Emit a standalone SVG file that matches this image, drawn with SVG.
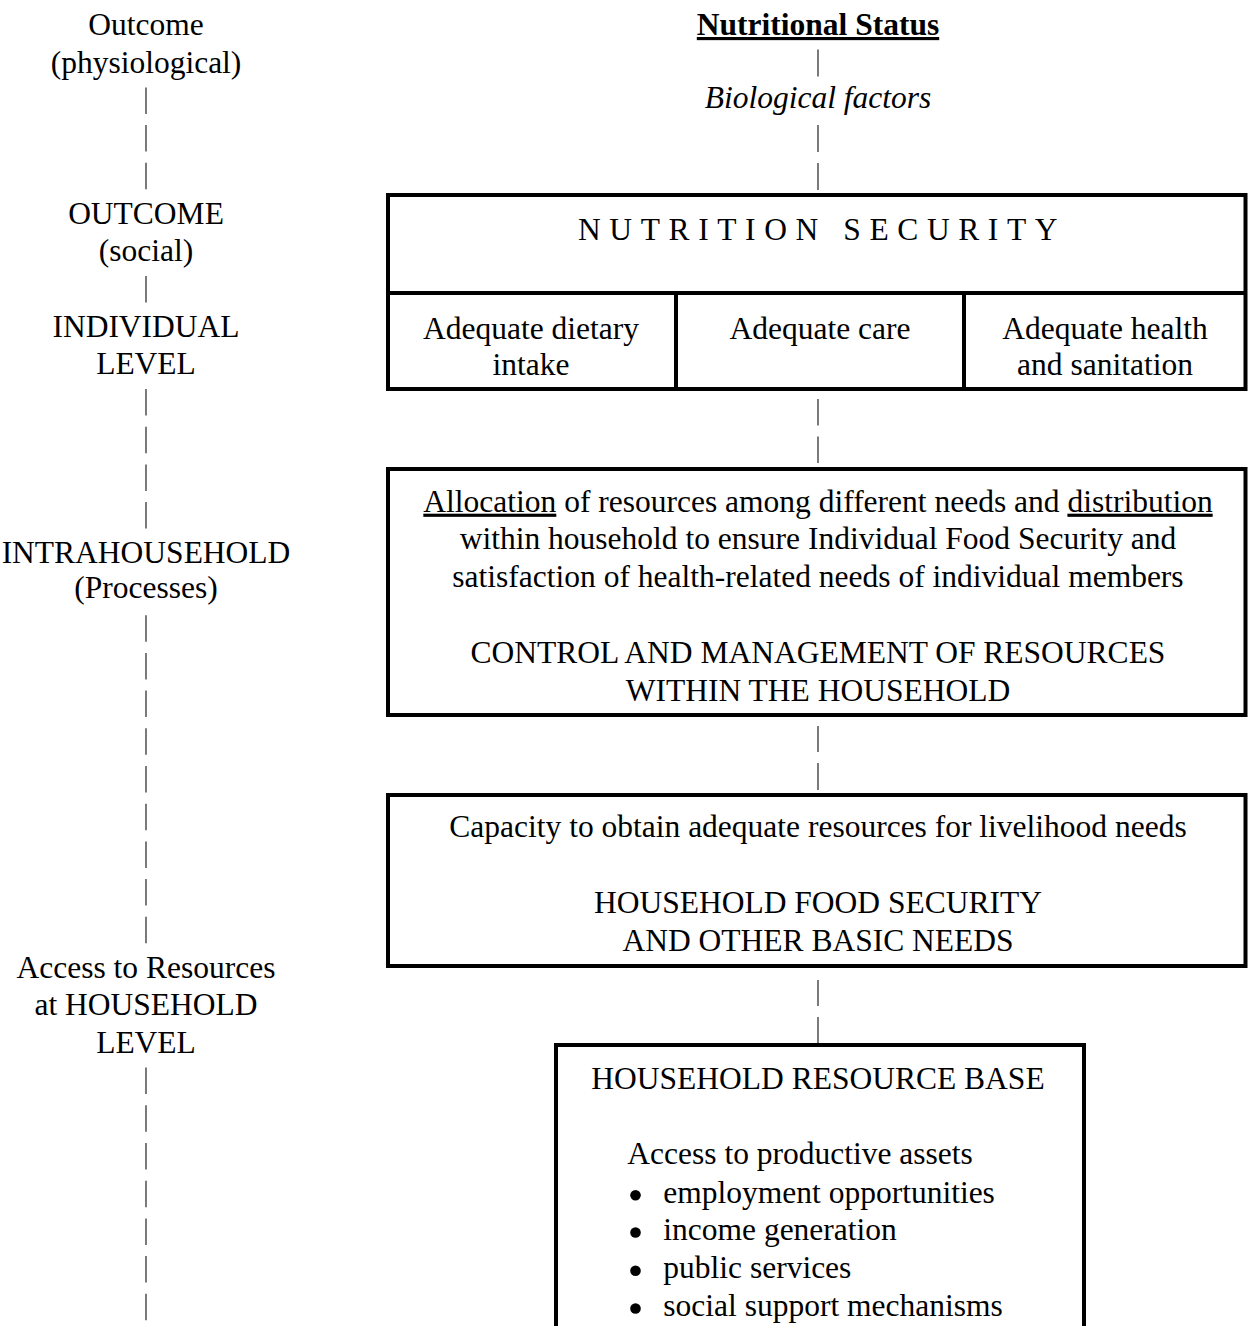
<svg xmlns="http://www.w3.org/2000/svg" width="1248" height="1326" viewBox="0 0 1248 1326">
<style>
text{font-family:"Liberation Serif","Times New Roman",serif;font-size:31.5px;fill:#000}
.c{text-anchor:middle}
.box{fill:none;stroke:#000;stroke-width:4}
.bar{stroke:#333;stroke-width:1.3}
.dot{fill:#000}
</style>
<rect width="1248" height="1326" fill="#fff"/>
<g id="left-scale">
<text class="c" x="146" y="35">Outcome</text>
<text class="c" x="146" y="72.7">(physiological)</text>
<text class="c" x="146" y="223.5">OUTCOME</text>
<text class="c" x="146" y="261.2">(social)</text>
<text class="c" x="146" y="336.6">INDIVIDUAL</text>
<text class="c" x="146" y="374.3">LEVEL</text>
<text class="c" x="146" y="562.8">INTRAHOUSEHOLD</text>
<text class="c" x="146" y="598">(Processes)</text>
<text class="c" x="146" y="977.5">Access to Resources</text>
<text class="c" x="146" y="1015.2">at HOUSEHOLD</text>
<text class="c" x="146" y="1052.9">LEVEL</text>
</g>
<g id="nutritional-status">
<text class="c" x="818" y="35" font-weight="bold" text-decoration="underline">Nutritional Status</text>
</g>
<g id="biological-factors">
<text class="c" x="818" y="108" font-style="italic">Biological factors</text>
</g>
<g id="nutrition-security">
<rect class="box" x="388" y="195" width="857.5" height="194"/>
<line class="box" x1="388" y1="293" x2="1245.5" y2="293"/>
<line class="box" x1="676" y1="293" x2="676" y2="389"/>
<line class="box" x1="964" y1="293" x2="964" y2="389"/>
<text x="578" y="240" letter-spacing="8.6">NUTRITION SECURITY</text>
<text class="c" x="531" y="338.5">Adequate dietary</text>
<text class="c" x="531" y="375">intake</text>
<text class="c" x="820" y="338.5">Adequate care</text>
<text class="c" x="1105" y="338.5">Adequate health</text>
<text class="c" x="1105" y="375">and sanitation</text>
</g>
<g id="intrahousehold">
<rect class="box" x="388" y="469" width="857.5" height="246"/>
<text class="c" x="818" y="511.7"><tspan text-decoration="underline">Allocation</tspan> of resources among different needs and <tspan text-decoration="underline">distribution</tspan></text>
<text class="c" x="818" y="549.2">within household to ensure Individual Food Security and</text>
<text class="c" x="818" y="586.7">satisfaction of health-related needs of individual members</text>
<text class="c" x="818" y="663.3">CONTROL AND MANAGEMENT OF RESOURCES</text>
<text class="c" x="818" y="700.5">WITHIN THE HOUSEHOLD</text>
</g>
<g id="household-food-security">
<rect class="box" x="388" y="795" width="857.5" height="171"/>
<text class="c" x="818" y="836.7">Capacity to obtain adequate resources for livelihood needs</text>
<text class="c" x="818" y="913.3">HOUSEHOLD FOOD SECURITY</text>
<text class="c" x="818" y="950.7">AND OTHER BASIC NEEDS</text>
</g>
<g id="household-resource-base">
<rect class="box" x="556" y="1045" width="528" height="320"/>
<text class="c" x="818" y="1089.3">HOUSEHOLD RESOURCE BASE</text>
<text x="627.3" y="1164">Access to productive assets</text>
<circle class="dot" cx="635.5" cy="1195.2" r="5.3"/>
<text x="663.3" y="1202.7">employment opportunities</text>
<circle class="dot" cx="635.5" cy="1232.5" r="5.3"/>
<text x="663.3" y="1240">income generation</text>
<circle class="dot" cx="635.5" cy="1270.8" r="5.3"/>
<text x="663.3" y="1278.3">public services</text>
<circle class="dot" cx="635.5" cy="1308.5" r="5.3"/>
<text x="663.3" y="1316">social support mechanisms</text>
</g>
<g id="connectors">
<line class="bar" x1="146" y1="87.4" x2="146" y2="113.9"/>
<line class="bar" x1="146" y1="125.1" x2="146" y2="151.6"/>
<line class="bar" x1="146" y1="162.8" x2="146" y2="189.3"/>
<line class="bar" x1="146" y1="275.9" x2="146" y2="302.4"/>
<line class="bar" x1="146" y1="389" x2="146" y2="415.5"/>
<line class="bar" x1="146" y1="426.7" x2="146" y2="453.2"/>
<line class="bar" x1="146" y1="464.4" x2="146" y2="490.9"/>
<line class="bar" x1="146" y1="502.1" x2="146" y2="528.6"/>
<line class="bar" x1="146" y1="615.2" x2="146" y2="641.7"/>
<line class="bar" x1="146" y1="652.9" x2="146" y2="679.4"/>
<line class="bar" x1="146" y1="690.6" x2="146" y2="717.1"/>
<line class="bar" x1="146" y1="728.3" x2="146" y2="754.8"/>
<line class="bar" x1="146" y1="766" x2="146" y2="792.5"/>
<line class="bar" x1="146" y1="803.7" x2="146" y2="830.2"/>
<line class="bar" x1="146" y1="841.4" x2="146" y2="867.9"/>
<line class="bar" x1="146" y1="879.1" x2="146" y2="905.6"/>
<line class="bar" x1="146" y1="916.8" x2="146" y2="943.3"/>
<line class="bar" x1="146" y1="1067.6" x2="146" y2="1094.1"/>
<line class="bar" x1="146" y1="1105.3" x2="146" y2="1131.8"/>
<line class="bar" x1="146" y1="1143" x2="146" y2="1169.5"/>
<line class="bar" x1="146" y1="1180.7" x2="146" y2="1207.2"/>
<line class="bar" x1="146" y1="1218.4" x2="146" y2="1244.9"/>
<line class="bar" x1="146" y1="1256.1" x2="146" y2="1282.6"/>
<line class="bar" x1="146" y1="1293.8" x2="146" y2="1320.3"/>
<line class="bar" x1="818" y1="49.5" x2="818" y2="76.5"/>
<line class="bar" x1="818" y1="125" x2="818" y2="152"/>
<line class="bar" x1="818" y1="163" x2="818" y2="190"/>
<line class="bar" x1="818" y1="399" x2="818" y2="425.5"/>
<line class="bar" x1="818" y1="436.5" x2="818" y2="463"/>
<line class="bar" x1="818" y1="726" x2="818" y2="752"/>
<line class="bar" x1="818" y1="763" x2="818" y2="790"/>
<line class="bar" x1="818" y1="980" x2="818" y2="1006"/>
<line class="bar" x1="818" y1="1017" x2="818" y2="1043"/>
</g>
</svg>
